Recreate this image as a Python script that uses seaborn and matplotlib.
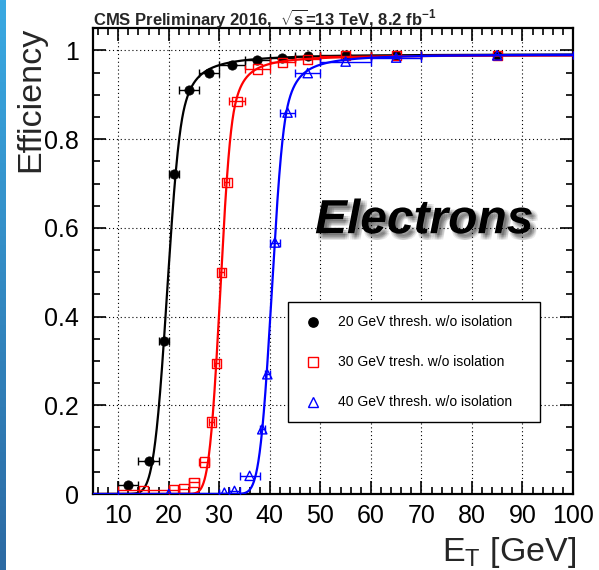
import math
import numpy as np
import pandas as pd
import matplotlib
matplotlib.use("Agg")
import matplotlib.pyplot as plt
import matplotlib.patheffects as pe
from matplotlib.patches import Rectangle
from matplotlib.ticker import MultipleLocator, FixedLocator, FixedFormatter
import seaborn as sns

# ---------------- data ----------------
et_20 = [12, 16, 19, 21, 24, 28, 32.5, 37.5, 42.5, 47.5, 55, 65, 85]
xerr_20 = [2, 2, 1, 1, 2, 2, 2.5, 2.5, 2.5, 2.5, 5, 5, 15]
eff_20 = [0.020, 0.074, 0.344, 0.722, 0.911, 0.950, 0.968, 0.979, 0.984, 0.987, 0.989, 0.989, 0.990]

et_30 = [15, 21, 23, 25, 27, 28.5, 29.5, 30.5, 31.5, 33.5, 37.5, 42.5, 47.5, 55, 65, 85]
xerr_30 = [5, 1, 1, 1, 1, 0.5, 0.5, 0.5, 0.5, 1.5, 2.5, 2.5, 2.5, 5, 5, 15]
eff_30 = [0.008, 0.009, 0.012, 0.026, 0.072, 0.162, 0.295, 0.500, 0.703, 0.885, 0.958, 0.973, 0.980, 0.988, 0.988, 0.989]

et_40 = [20, 31, 33, 36, 38.5, 39.5, 41, 43.5, 47.5, 55, 65, 85]
xerr_40 = [10, 1, 1, 2, 0.5, 0.5, 1, 1.5, 2.5, 5, 5, 15]
eff_40 = [0.0, 0.003, 0.007, 0.041, 0.146, 0.270, 0.567, 0.860, 0.949, 0.975, 0.984, 0.989]

labels = ["20 GeV thresh. w/o isolation", "30 GeV tresh. w/o isolation", "40 GeV thresh. w/o isolation"]

# fit parameters of the turn-on curves (crystal-ball cumulative)
fit_mu = [19.7, 30.2, 40.4]
fit_sigma = [2.1, 1.73, 1.9]
fit_alpha = [1.5, 1.5, 1.5]
fit_n = [2.5, 2.5, 2.5]
fit_plateau = [0.992, 0.990, 0.992]

x_ticks = [10, 20, 30, 40, 50, 60, 70, 80, 90, 100]
y_ticks = [0, 0.2, 0.4, 0.6, 0.8, 1.0]
y_tick_labels = ["0", "0.2", "0.4", "0.6", "0.8", "1"]

title_text = r"CMS Preliminary 2016,  $\sqrt{\mathbf{s}}$=13 TeV, 8.2 fb$^{\mathbf{-1}}$"

# ---------------- style ----------------
sns.set_theme(style="ticks")
plt.rcParams["font.family"] = ["Liberation Sans", "DejaVu Sans"]
plt.rcParams["mathtext.fontset"] = "custom"
plt.rcParams["mathtext.rm"] = "Liberation Sans"
plt.rcParams["mathtext.it"] = "Liberation Sans:italic"
plt.rcParams["mathtext.bf"] = "Liberation Sans:bold"

_erf = np.vectorize(math.erf)


def cb_cdf(x, mu, sig, alpha, n, plateau):
    z = (np.asarray(x) - mu) / sig
    A = (n / alpha) ** n * np.exp(-alpha ** 2 / 2)
    B = n / alpha - alpha

    def G(t):
        return np.sqrt(np.pi / 2) * (1 + _erf(t / np.sqrt(2)))

    N = G(alpha) + A / (n - 1) * (B + alpha) ** (1 - n)
    core = G(np.minimum(z, alpha))
    zt = np.maximum(z, alpha)
    tail = A / (n - 1) * ((B + alpha) ** (1 - n) - (B + zt) ** (1 - n))
    return plateau * (core + tail) / N


W, H = 599, 570
fig = plt.figure(figsize=(W / 100, H / 100), dpi=100)
fig.patch.set_facecolor("white")

# left decorative strip
strip = fig.add_axes([0, 0, 6 / W, 1])
grad = np.linspace(0, 1, 256).reshape(-1, 1)
cmap = matplotlib.colors.LinearSegmentedColormap.from_list("strip", ["#3aa9e2", "#2c6aa3"])
strip.imshow(grad, aspect="auto", cmap=cmap, extent=[0, 1, 0, 1], origin="upper")
strip.set_axis_off()

ax = fig.add_axes([93 / W, 76 / H, 480 / W, 465.7 / H])
ax.set_facecolor("white")

series = [
    (et_20, xerr_20, eff_20, "black", "o", True),
    (et_30, xerr_30, eff_30, "#ff0000", "s", False),
    (et_40, xerr_40, eff_40, "#0000ff", "^", False),
]

xfit = np.linspace(5, 100, 3000)
for i, (xs, xe, ys, col, mk, filled) in enumerate(series):
    ax.errorbar(xs, ys, xerr=xe, fmt="none", ecolor=col, elinewidth=1.0,
                capsize=3, capthick=1.0, zorder=3 + i)
    df = pd.DataFrame({"et": xs, "eff": ys})
    if filled:
        sns.scatterplot(data=df, x="et", y="eff", ax=ax, marker=mk, s=6.7 ** 2,
                        color=col, edgecolor=col, linewidth=0.5, zorder=3.2 + i, legend=False)
    else:
        sns.scatterplot(data=df, x="et", y="eff", ax=ax, marker=mk, s=6.7 ** 2,
                        facecolor="none", edgecolor=col, linewidth=1.0, zorder=3.2 + i, legend=False)
    yfit = cb_cdf(xfit, fit_mu[i], fit_sigma[i], fit_alpha[i], fit_n[i], fit_plateau[i])
    fdf = pd.DataFrame({"et": xfit, "eff": yfit})
    sns.lineplot(data=fdf, x="et", y="eff", ax=ax, color=col, linewidth=1.6,
                 estimator=None, sort=False, zorder=3.5 + i)

ax.set_xlim(5, 100)
ax.set_ylim(0, 1.05)
ax.xaxis.set_major_locator(FixedLocator(x_ticks))
ax.xaxis.set_minor_locator(MultipleLocator(2))
ax.yaxis.set_major_locator(FixedLocator(y_ticks))
ax.yaxis.set_major_formatter(FixedFormatter(y_tick_labels))
ax.yaxis.set_minor_locator(MultipleLocator(0.05))
ax.set_xlabel("")
ax.set_ylabel("")
ax.tick_params(which="both", direction="in", top=True, right=True, width=1.2, color="black")
ax.tick_params(which="major", length=9.5, labelsize=18, labelcolor="black")
ax.tick_params(axis="x", which="major", pad=7.5)
ax.tick_params(axis="y", which="major", pad=10)
ax.tick_params(which="minor", length=5)
for s in ax.spines.values():
    s.set_visible(True)
    s.set_linewidth(1.6)
    s.set_color("black")
ax.grid(True, which="major", linestyle=(0, (1, 2.5)), color="black", linewidth=0.8)
ax.set_axisbelow(True)

# legend box (drawn manually to match layout)
ax.add_patch(Rectangle((0.406, 0.155), 0.525, 0.258, transform=ax.transAxes,
                       facecolor="white", edgecolor="black", linewidth=1.0, zorder=10))
leg_rows = [0.369, 0.283, 0.198]
for (xs, xe, ys, col, mk, filled), yy, lab in zip(series, leg_rows, labels):
    ax.plot([0.459], [yy], transform=ax.transAxes, marker=mk, markersize=6.7,
            markerfacecolor=col if filled else "none", markeredgecolor=col,
            markeredgewidth=1.0, linestyle="none", zorder=11)
    ax.text(0.510, yy, lab, transform=ax.transAxes, fontsize=10, va="center", ha="left",
            color="black", zorder=11)

# "Electrons" label with soft drop shadow
effects = []
for dx in (1.5, 3.0, 4.5):
    for dy in (-1.5, -3.0, -4.5):
        effects.append(pe.SimplePatchShadow(offset=(dx, dy), shadow_rgbFace="black", alpha=0.08))
effects.append(pe.Normal())
ax.text(0.4625, 0.56, "Electrons", transform=ax.transAxes, fontsize=34.5, fontweight="bold",
        fontstyle="italic", color="black", ha="left", va="baseline", zorder=9,
        path_effects=effects)

# title and axis titles
fig.text(93 / W, 1 - 25 / H, title_text, fontsize=12, fontweight="bold", ha="left", va="baseline")
fig.text(31 / W, 1 - 27 / H, "Efficiency", rotation=90, fontsize=24.5, ha="center", va="top")
fig.text(576 / W, 1 - 561 / H, r"E$_{\mathrm{T}}$ [GeV]", fontsize=24.5, ha="right", va="baseline")

fig.savefig("out.png", dpi=100)
